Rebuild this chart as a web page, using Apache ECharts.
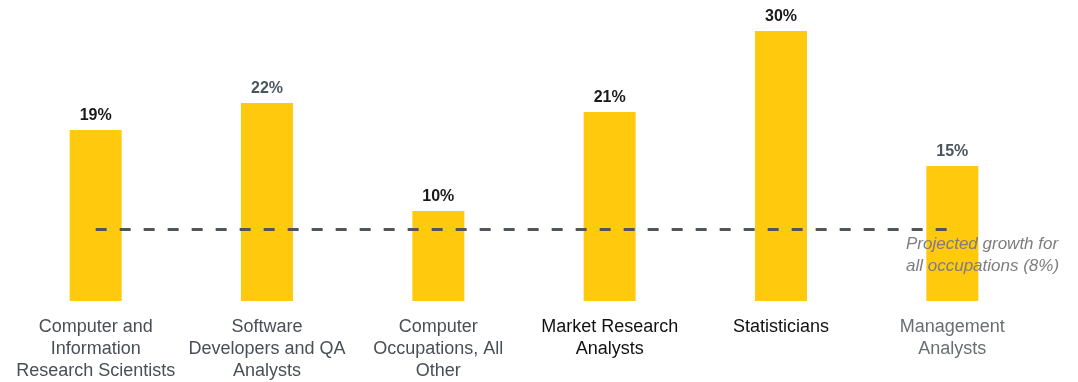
<!DOCTYPE html>
<html><head><meta charset="utf-8">
<script src="https://cdn.jsdelivr.net/npm/echarts@6/dist/echarts.min.js"></script>
<style>html,body{margin:0;padding:0;background:#fff}#c{width:1078px;height:382px}</style>
</head><body><div id="c"></div>
<script>
const categories = [
  'Computer and\nInformation\nResearch Scientists',
  'Software\nDevelopers and QA\nAnalysts',
  'Computer\nOccupations, All\nOther',
  'Market Research\nAnalysts',
  'Statisticians',
  'Management\nAnalysts'
];
const growth = [19, 22, 10, 21, 30, 15];
const allOccupations = 8;
const categoryColors = ['#4a4f55', '#4a4f55', '#4a4f55', '#111111', '#111111', '#6a6e73'];
const valueLabelColors = ['#1a1a1a', '#4a5560', '#1a1a1a', '#1a1a1a', '#1a1a1a', '#4a5560'];

const chart = echarts.init(document.getElementById('c'));
chart.setOption({
  animation: false,
  grid: { left: 10, right: 40, top: 13, bottom: 80, containLabel: false },
  xAxis: {
    type: 'category',
    data: categories.map((c, i) => ({ value: c, textStyle: { color: categoryColors[i] } })),
    axisLine: { show: false }, axisTick: { show: false },
    axisLabel: { interval: 0, fontFamily: 'Liberation Sans', fontSize: 18, lineHeight: 22, margin: 15 }
  },
  yAxis: { type: 'value', min: 0, max: 32, show: false, splitLine: { show: false } },
  series: [{
    type: 'bar',
    barWidth: 52,
    data: growth.map((v, i) => ({ value: v, label: { color: valueLabelColors[i] } })),
    itemStyle: { color: '#FFC90E' },
    label: {
      show: true, position: 'top', distance: 6,
      formatter: p => p.value + '%',
      fontFamily: 'Liberation Sans', fontWeight: 'bold', fontSize: 16
    },
    markLine: {
      silent: true, symbol: 'none', z: 5,
      lineStyle: { color: '#50555b', type: [11, 13], width: 3 },
      label: { show: false },
      data: [[{ xAxis: categories[0], yAxis: allOccupations }, { xAxis: categories[5], yAxis: allOccupations }]]
    }
  }],
  graphic: [{
    type: 'text', left: 906, top: 233, z: 10,
    style: {
      text: 'Projected growth for\nall occupations (' + allOccupations + '%)',
      fontFamily: 'Liberation Sans', fontStyle: 'italic', fontSize: 17, lineHeight: 22,
      fill: '#7d7d7d', align: 'left'
    }
  }]
});
</script></body></html>
